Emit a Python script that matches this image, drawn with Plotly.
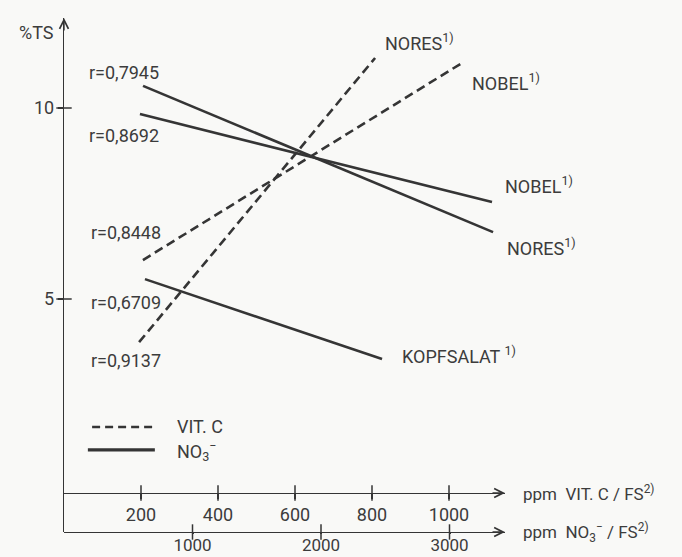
import plotly.graph_objects as go

# Regression lines: %TS against vitamin C content (ppm VIT. C / FS)
vitc_names = ["NORES", "NOBEL"]
vitc_x = [[195, 808], [205, 1034]]
vitc_y = [[3.87, 11.31], [6.02, 11.18]]

# Regression lines: %TS against nitrate content (ppm NO3- / FS)
no3_names = ["NORES", "NOBEL", "KOPFSALAT"]
no3_x = [[615, 3339], [591, 3331], [630, 2475]]
no3_y = [[10.58, 6.75], [9.84, 7.54], [5.52, 3.43]]

# Correlation coefficients, top to bottom at the left ends of the lines
r_values = ["0,7945", "0,8692", "0,8448", "0,6709", "0,9137"]

vitc_ticks = [200, 400, 600, 800, 1000]
no3_ticks = [1000, 2000, 3000]
y_ticks = [5, 10]

INK = "#353535"
TXT = "#3c3c3c"
FONT = "Roboto"

# pixel geometry of the drawing area
W, H = 682, 557
L, R, T, B = 64, 177, 18, 25
plot_w = W - L - R
plot_h = H - T - B
VITC_MAX = plot_w / 77 * 200
NO3_MAX = plot_w / 128.5 * 1000
PX_PER_UNIT = 38.2
Y_MIN = -(42) / PX_PER_UNIT
Y_MAX = 472 / PX_PER_UNIT
X_AXIS_POS = 39 / plot_h
X_AXIS_VAL = Y_MIN + (Y_MAX - Y_MIN) * X_AXIS_POS

fig = go.Figure()

for xs, ys in zip(vitc_x, vitc_y):
    fig.add_trace(go.Scatter(x=xs, y=ys, mode="lines", xaxis="x", yaxis="y",
                             line=dict(color=INK, width=2.6, dash="9px,5px"),
                             showlegend=False, hoverinfo="skip"))
for xs, ys in zip(no3_x, no3_y):
    fig.add_trace(go.Scatter(x=xs, y=ys, mode="lines", xaxis="x2", yaxis="y",
                             line=dict(color=INK, width=2.6),
                             showlegend=False, hoverinfo="skip"))

# tick marks crossing the axis lines
tick_marker = dict(color=INK, size=11, line=dict(color=INK, width=1.5))
fig.add_trace(go.Scatter(x=vitc_ticks, y=[X_AXIS_VAL] * len(vitc_ticks), mode="markers",
                         xaxis="x", yaxis="y", cliponaxis=False, showlegend=False,
                         marker=dict(symbol="line-ns", **tick_marker), hoverinfo="skip"))
fig.add_trace(go.Scatter(x=no3_ticks, y=[Y_MIN] * len(no3_ticks), mode="markers",
                         xaxis="x2", yaxis="y", cliponaxis=False, showlegend=False,
                         marker=dict(symbol="line-ns", **tick_marker), hoverinfo="skip"))
fig.add_trace(go.Scatter(x=[0] * len(y_ticks), y=y_ticks, mode="markers",
                         xaxis="x", yaxis="y", cliponaxis=False, showlegend=False,
                         marker=dict(symbol="line-ew", **tick_marker), hoverinfo="skip"))

ann = []

def label(x, y, text, size=18, xanchor="left"):
    ann.append(dict(x=x, y=y, xref="x", yref="y", text=text, showarrow=False,
                    xanchor=xanchor, yanchor="middle",
                    font=dict(family=FONT, size=size, color=TXT)))

r_pos = [(60, 10.92), (60, 9.29), (66, 6.75), (66, 4.92), (66, 3.40)]
for (x, y), r in zip(r_pos, r_values):
    label(x, y, f"r={r}", size=18)

sup = "<sup>1)</sup>"
label(829, 11.73, vitc_names[0] + sup)
label(1055, 10.68, vitc_names[1] + sup)
label(1140, 7.98, no3_names[1] + sup)
label(1145, 6.36, no3_names[0] + sup)
label(873, 3.53, no3_names[2] + " " + sup)

# legend
label(288, 1.65, "VIT. C")
label(288, 1.02, "NO<sub>3</sub><sup>−</sup>")

# axis titles
ann.append(dict(x=1, y=X_AXIS_POS, xref="paper", yref="paper", xanchor="left",
                yanchor="middle", xshift=16, showarrow=False,
                text="ppm  VIT. C / FS<sup>2)</sup>",
                font=dict(family=FONT, size=17, color=TXT)))
ann.append(dict(x=1, y=0, xref="paper", yref="paper", xanchor="left",
                yanchor="middle", xshift=16, showarrow=False,
                text="ppm  NO<sub>3</sub><sup>−</sup> / FS<sup>2)</sup>",
                font=dict(family=FONT, size=17, color=TXT)))
ann.append(dict(x=0, y=1, xref="paper", yref="paper", xanchor="right",
                yanchor="top", xshift=-8, yshift=-2, showarrow=False, text="%TS",
                font=dict(family=FONT, size=18, color=TXT)))

# open arrowheads at the axis ends
arrow = dict(xref="paper", yref="paper", text="", showarrow=True, arrowhead=5,
             arrowsize=1.25, arrowwidth=1.4, arrowcolor=INK, standoff=0)
ann.append(dict(x=1, y=X_AXIS_POS, ax=-14, ay=0, **arrow))
ann.append(dict(x=1, y=0, ax=-14, ay=0, **arrow))
ann.append(dict(x=0, y=1, ax=0, ay=14, **arrow))

shapes = [
    # legend keys
    dict(type="line", xref="x", yref="y", x0=73, x1=231, y0=1.65, y1=1.65,
         line=dict(color=INK, width=2.6, dash="8px,5px")),
    dict(type="line", xref="x", yref="y", x0=62, x1=236, y0=1.05, y1=1.05,
         line=dict(color=INK, width=3.2)),
]

axis_font = dict(family=FONT, size=18, color=TXT)
common = dict(showline=True, linecolor=INK, linewidth=1.4, showgrid=False,
              zeroline=False, ticks="outside", tickcolor=INK,
              tickwidth=1.5, automargin=False)
fig.update_layout(
    width=W, height=H,
    margin=dict(l=L, r=R, t=T, b=B, autoexpand=False),
    paper_bgcolor="#f9f9f7", plot_bgcolor="#f9f9f7",
    showlegend=False,
    annotations=ann, shapes=shapes,
    xaxis=dict(range=[0, VITC_MAX], anchor="free", position=X_AXIS_POS,
               tickvals=vitc_ticks, ticklen=5, tickfont=axis_font, **common),
    xaxis2=dict(range=[0, NO3_MAX], anchor="free", position=0, overlaying="x",
                side="bottom", tickvals=no3_ticks, ticklen=1, ticklabelstandoff=-4,
                tickfont=dict(family=FONT, size=17, color=TXT), **common),
    yaxis=dict(range=[Y_MIN, Y_MAX], tickvals=y_ticks, ticklen=5, tickfont=axis_font,
               **common),
)

fig.write_html("out.html")
